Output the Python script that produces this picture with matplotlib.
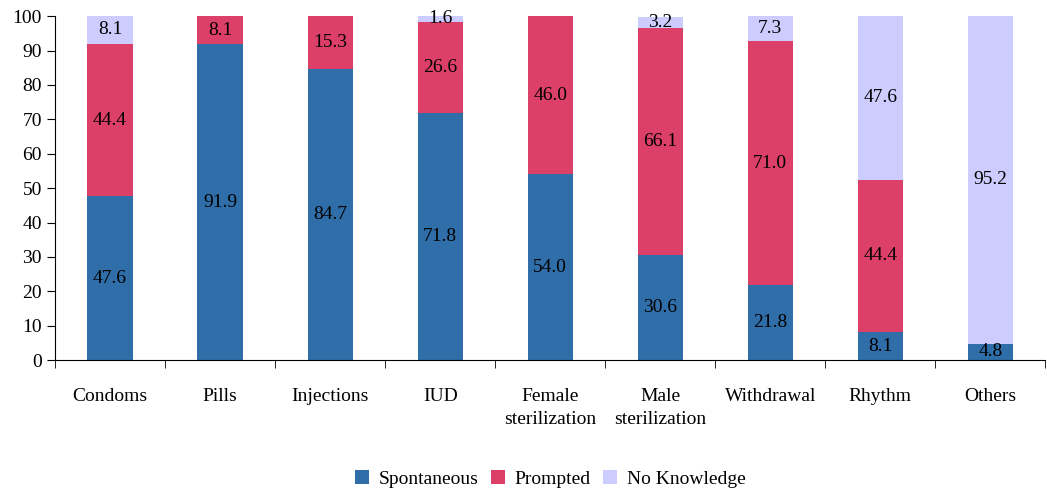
import numpy as np
import matplotlib.pyplot as plt

plt.rcParams['font.family'] = ['Liberation Serif', 'DejaVu Serif']

methods = ['Condoms', 'Pills', 'Injections', 'IUD', 'Female\nsterilization',
           'Male\nsterilization', 'Withdrawal', 'Rhythm', 'Others']
spontaneous = [47.6, 91.9, 84.7, 71.8, 54.0, 30.6, 21.8, 8.1, 4.8]
prompted = [44.4, 8.1, 15.3, 26.6, 46.0, 66.1, 71.0, 44.4, 0.0]
no_knowledge = [8.1, 0.0, 0.0, 1.6, 0.0, 3.2, 7.3, 47.6, 95.2]

series = [('Spontaneous', spontaneous, '#2F6EA8'),
          ('Prompted', prompted, '#DC4068'),
          ('No Knowledge', no_knowledge, '#CCCCFF')]

font = ['Liberation Serif', 'DejaVu Serif']

fig = plt.figure(figsize=(10.47, 4.9), dpi=100)
ax = fig.add_axes([0.0525, 0.265, 0.946, 0.702])

x = np.arange(len(methods))
bottom = np.zeros(len(methods))
for name, vals, col in series:
    vals = np.array(vals)
    ax.bar(x, vals, 0.41, bottom=bottom, color=col, label=name)
    for xi, b, v in zip(x, bottom, vals):
        if v > 0:
            ax.text(xi, b + v / 2, f'{v:.1f}', ha='center', va='center',
                    fontsize=14, family=font)
    bottom = bottom + vals

ax.set_xlim(-0.5, len(methods) - 0.5)
ax.set_ylim(0, 100)
ax.set_yticks(range(0, 101, 10))
ax.set_xticks(x)
ax.set_xticklabels(methods, fontsize=14, va='top', linespacing=1.45, family=font)
ax.set_xticks(np.arange(-0.5, len(methods), 1), minor=True)
ax.tick_params(axis='x', which='major', length=0, pad=20)
ax.tick_params(axis='x', which='minor', length=6, direction='out')
ax.tick_params(axis='y', labelsize=14, length=6, direction='out')
for s in ['top', 'right']:
    ax.spines[s].set_visible(False)

ax.legend(loc='center', bbox_to_anchor=(0.5, -0.345), ncol=3, frameon=False,
          prop={'family': font, 'size': 14}, handlelength=0.75, handleheight=0.75,
          handletextpad=0.5, columnspacing=0.6)

fig.savefig('out.png', dpi=100)
